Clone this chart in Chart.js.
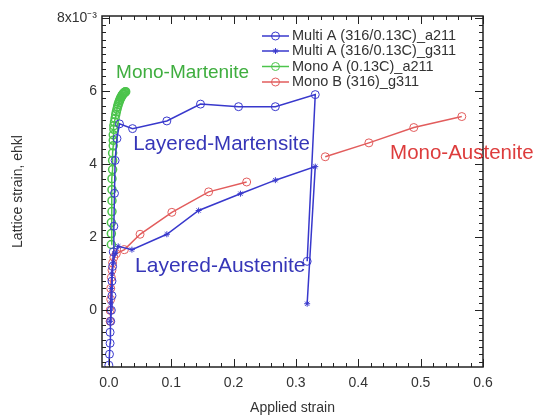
<!DOCTYPE html>
<html>
<head>
<meta charset="utf-8">
<script src="https://cdn.jsdelivr.net/npm/chart.js@4"></script>
<style>
  html, body { margin: 0; padding: 0; background: #fff; }
</style>
</head>
<body>
<canvas id="chart" width="535" height="417"></canvas>
<script>
// values (strain in units of 1e-3)
const multiA211X = [0.000, 0.001, 0.002, 0.002, 0.003, 0.004, 0.005, 0.005, 0.006, 0.007, 0.008, 0.009, 0.010, 0.013, 0.017, 0.038, 0.093, 0.147, 0.208, 0.267, 0.331, 0.318];
const multiA211Y = [-1.5, -1.2, -0.9, -0.6, -0.3, 0.0, 0.4, 0.8, 1.2, 1.6, 2.3, 3.2, 4.1, 4.7, 5.1, 4.97, 5.18, 5.64, 5.57, 5.57, 5.9, 1.34];

const multiG311X = [0.002, 0.003, 0.004, 0.005, 0.007, 0.010, 0.015, 0.037, 0.093, 0.144, 0.211, 0.267, 0.331, 0.318];
const multiG311Y = [-0.3, 0.2, 0.6, 1.0, 1.3, 1.55, 1.75, 1.66, 2.08, 2.73, 3.19, 3.56, 3.93, 0.18];

const monoA211X = [0.004, 0.004, 0.004, 0.005, 0.005, 0.005, 0.005, 0.006, 0.006, 0.006, 0.007, 0.007, 0.007, 0.008, 0.008, 0.009, 0.010, 0.011, 0.012, 0.013, 0.014, 0.015, 0.016, 0.017, 0.018, 0.019, 0.020, 0.021, 0.022, 0.023, 0.024, 0.025, 0.026, 0.027];
const monoA211Y = [1.8, 2.1, 2.4, 2.7, 3.0, 3.3, 3.6, 3.85, 4.1, 4.3, 4.5, 4.65, 4.8, 4.95, 5.05, 5.15, 5.25, 5.35, 5.43, 5.5, 5.57, 5.63, 5.68, 5.73, 5.77, 5.81, 5.84, 5.87, 5.9, 5.92, 5.94, 5.96, 5.97, 5.98];

const monoBG311X = [0.002, 0.002, 0.003, 0.003, 0.004, 0.005, 0.006, 0.008, 0.012, 0.025, 0.050, 0.101, 0.160, 0.221, 0.280, 0.347, 0.417, 0.489, 0.566];
const monoBG311Y = [-0.3, 0.0, 0.3, 0.6, 0.9, 1.1, 1.3, 1.45, 1.55, 1.66, 2.08, 2.68, 3.24, 3.51, null, 4.2, 4.58, 5.0, 5.3];

const seriesLabels = ['Multi A (316/0.13C)_a211', 'Multi A (316/0.13C)_g311', 'Mono A (0.13C)_a211', 'Mono B (316)_g311'];
const xTicks = [0, 0.1, 0.2, 0.3, 0.4, 0.5, 0.6];
const yTicks = [0, 2, 4, 6, 8];

const blue = '#3838cc';
const green = '#4cc44c';
const red = '#e25c5c';
const fontFamily = '"Liberation Sans", Arial, sans-serif';

const toPoints = (xs, ys) => xs.map((x, i) => ({ x: x, y: ys[i] }));

// text labels drawn inside the plot, placed in data coordinates
const notes = [
    { text: 'Mono-Martenite', x: 0.0116, y: 6.49, color: '#3fae3f', size: 19 },
    { text: 'Layered-Martensite', x: 0.039, y: 4.54, color: '#3636b8', size: 20.5 },
    { text: 'Mono-Austenite', x: 0.451, y: 4.29, color: '#dd3c3c', size: 20.5 },
    { text: 'Layered-Austenite', x: 0.042, y: 1.2, color: '#3636b8', size: 21 }
];

const frameTicks = {
    id: 'frameTicks',
    afterDatasetsDraw(chart) {
        const { ctx, chartArea: a, scales: { x, y } } = chart;
        ctx.save();
        ctx.strokeStyle = '#222';
        ctx.lineWidth = 1;
        ctx.beginPath();
        for (let i = 0; i <= 30; i++) {
            const px = Math.round(x.getPixelForValue(i * 0.02)) + 0.5;
            const len = i % 5 === 0 ? 8 : 4;
            ctx.moveTo(px, a.bottom); ctx.lineTo(px, a.bottom - len);
            ctx.moveTo(px, a.top); ctx.lineTo(px, a.top + len);
        }
        for (let i = -7; i <= 40; i++) {
            const py = Math.round(y.getPixelForValue(i * 0.2)) + 0.5;
            const len = i % 10 === 0 ? 8 : 4;
            ctx.moveTo(a.left, py); ctx.lineTo(a.left + len, py);
            ctx.moveTo(a.right, py); ctx.lineTo(a.right - len, py);
        }
        ctx.stroke();
        ctx.lineWidth = 1.5;
        ctx.strokeRect(a.left, a.top, a.right - a.left, a.bottom - a.top);

        // annotations
        ctx.textBaseline = 'middle';
        ctx.textAlign = 'left';
        notes.forEach(n => {
            ctx.font = n.size + 'px ' + fontFamily;
            ctx.fillStyle = n.color;
            ctx.fillText(n.text, x.getPixelForValue(n.x), y.getPixelForValue(n.y));
        });

        // legend, top right inside the frame
        const rows = [36, 51, 66.5, 82];
        ctx.font = '14.5px ' + fontFamily;
        chart.data.datasets.forEach((ds, i) => {
            const ry = rows[i];
            ctx.strokeStyle = ds.borderColor;
            ctx.fillStyle = 'rgba(0,0,0,0)';
            ctx.lineWidth = 1.5;
            ctx.beginPath();
            ctx.moveTo(262, ry); ctx.lineTo(289, ry);
            ctx.stroke();
            ctx.lineWidth = 1;
            Chart.helpers.drawPoint(ctx, { pointStyle: ds.pointStyle, radius: ds.pointRadius, borderWidth: 1, rotation: 0 }, 275.5, ry);
            ctx.fillStyle = '#333';
            ctx.fillText(ds.label, 292, ry);
        });
        ctx.restore();
    }
};

const dataset = (label, pts, color, style, radius, bw) => ({
    label: label,
    data: pts,
    borderColor: color,
    backgroundColor: 'rgba(0,0,0,0)',
    pointBorderColor: color,
    borderWidth: 1.5,
    pointStyle: style,
    pointRadius: radius,
    pointBorderWidth: bw,
    showLine: true,
    spanGaps: false
});

new Chart(document.getElementById('chart'), {
    type: 'scatter',
    data: {
        datasets: [
            dataset(seriesLabels[0], toPoints(multiA211X, multiA211Y), blue, 'circle', 4, 1),
            dataset(seriesLabels[1], toPoints(multiG311X, multiG311Y), blue, 'star', 3, 1),
            dataset(seriesLabels[2], toPoints(monoA211X, monoA211Y), green, 'circle', 4, 1.5),
            dataset(seriesLabels[3], toPoints(monoBG311X, monoBG311Y), red, 'circle', 4, 1)
        ]
    },
    options: {
        responsive: false,
        animation: false,
        layout: { padding: { left: 0, top: 16, right: 52, bottom: 0 } },
        plugins: {
            legend: { display: false },
            tooltip: { enabled: false }
        },
        scales: {
            x: {
                type: 'linear',
                min: -0.011,
                max: 0.6,
                afterFit: (s) => { s.height = 50; },
                afterBuildTicks: (s) => { s.ticks = xTicks.map(v => ({ value: v })); },
                grid: { display: false, drawTicks: false },
                border: { display: false },
                ticks: {
                    padding: 8,
                    color: '#333',
                    font: { family: fontFamily, size: 14 },
                    callback: (v) => v.toFixed(1)
                },
                title: {
                    display: true,
                    text: 'Applied strain',
                    color: '#333',
                    padding: { top: 0, bottom: 0 },
                    font: { family: fontFamily, size: 14 }
                }
            },
            y: {
                type: 'linear',
                min: -1.55,
                max: 8.05,
                afterFit: (s) => { s.width = 102; },
                afterBuildTicks: (s) => { s.ticks = yTicks.map(v => ({ value: v })); },
                grid: { display: false, drawTicks: false },
                border: { display: false },
                ticks: {
                    padding: 5,
                    color: '#333',
                    font: { family: fontFamily, size: 14 },
                    callback: (v) => v === 8 ? '8x10\u207B\u00B3' : String(v)
                },
                title: {
                    display: true,
                    text: 'Lattice strain, ehkl',
                    color: '#333',
                    padding: { top: 10, bottom: 0 },
                    font: { family: fontFamily, size: 14 }
                }
            }
        }
    },
    plugins: [frameTicks]
});
</script>
</body>
</html>
